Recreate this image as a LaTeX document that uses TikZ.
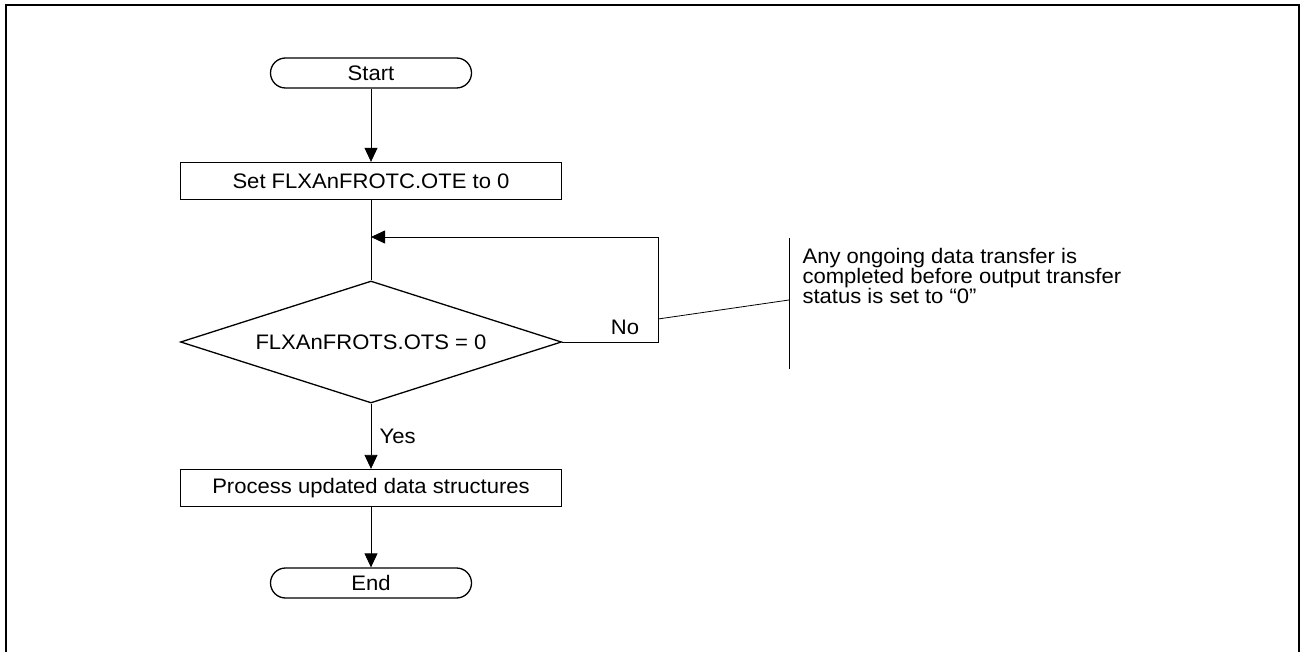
\documentclass[tikz,border=0pt]{standalone}
\usepackage{fontspec}
\setmainfont{Liberation Sans}[FakeStretch=1.05]
\usetikzlibrary{calc, positioning}
\usetikzlibrary{arrows.meta}
\usetikzlibrary{shapes.geometric}

\tikzset{
  box/.style={draw, line width=1.3pt, minimum width=381pt, minimum height=37pt, inner sep=0pt},
  term/.style={draw, line width=1.3pt, rounded corners=15pt, minimum width=201pt, minimum height=30pt, inner sep=0pt},
  cond/.style={draw, diamond, line width=1.3pt, minimum width=381pt, minimum height=122pt, aspect=3.1, inner sep=0pt},
  flow/.style={line width=0.8pt, -{Triangle[length=14pt,width=13pt]}},
  link/.style={line width=0.8pt},
}

\begin{document}
\begin{tikzpicture}[x=1pt,y=-1pt, font=\fontsize{21}{20}\selectfont]
\useasboundingbox (0,0) rectangle (1301,652);
\draw[line width=2pt] (6,652) -- (6,5) -- (1299,5) -- (1299,652);

% flow
\node[term] (start) at (371,73) {Start};
\node[box] (set) at (371,181) {Set FLXAnFROTC.OTE to 0};
\node[cond] (dec) at (371,342) {FLXAnFROTS.OTS = 0};
\node[box] (proc) at (371,488) {Process updated data structures};
\node[term] (end) at (371,583) {End};

\draw[flow] (start) -- (set);
\draw[link] (set) -- (dec);
\draw[flow] (dec) -- node[right=5pt] (yes) {Yes} (proc);
\draw[flow] (proc) -- (end);

% loop back
\coordinate (loopR) at (658,237);
\draw[flow] (dec.east) -| (loopR) -- (dec.north |- loopR);
\node (no) at (625,327) {No};

% note
\coordinate (noteTop) at (789,238);
\coordinate (noteBot) at (789,369);
\coordinate (noteHit) at (789,300);
\coordinate (loopHit) at (658,319);
\draw[link] (noteTop) -- (noteBot);
\draw[link] (loopHit) -- (noteHit);
\node[anchor=west, align=left] (note) at (799,276) {Any ongoing data transfer is\\completed before output transfer\\status is set to “0”};

\end{tikzpicture}
\end{document}
